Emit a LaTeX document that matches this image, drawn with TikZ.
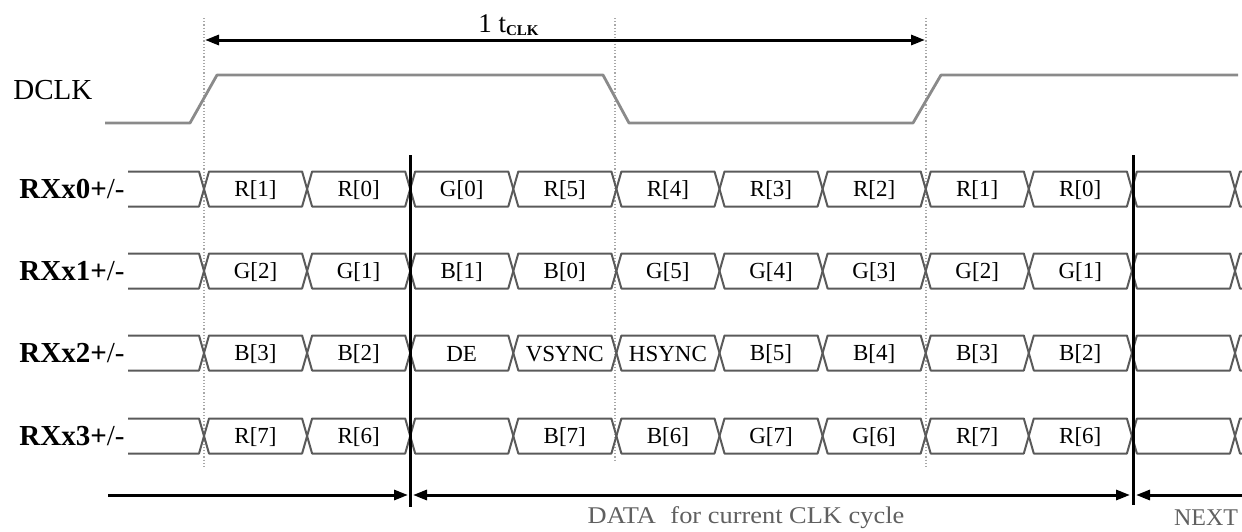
\documentclass[tikz,border=0pt]{standalone}
\usepackage{fontspec}
\setmainfont{Liberation Serif}
\usetikzlibrary{arrows.meta,positioning}
\definecolor{WaveGray}{HTML}{5A5A5A}
\definecolor{ClockGray}{HTML}{8A8A8A}
\definecolor{GuideGray}{HTML}{A8A8A8}
\definecolor{NoteGray}{HTML}{606060}

\begin{document}
\begin{tikzpicture}[
          x=0.5pt, y=-0.5pt,
          >={Triangle[length=7pt,width=5pt]},
          signal/.style={anchor=east, inner sep=0pt, font=\fontsize{14.5}{16}\selectfont},
          cell/.style={inner sep=0pt, font=\fontsize{11.5}{13}\selectfont},
          wave/.style={draw=WaveGray, line width=1pt, line join=round},
          clockline/.style={draw=ClockGray, line width=1.4pt, line join=round},
          guide/.style={draw=GuideGray, line width=0.6pt, densely dotted},
          cut/.style={draw=black, line width=1.5pt},
          span/.style={draw=black, line width=1.5pt},
          note/.style={inner sep=0pt, text=NoteGray, font=\fontsize{12}{14}\selectfont}
        ]
          \useasboundingbox (0,0) rectangle (1242,531);
          \foreach \gx/\gy in {204/468, 615/462, 926/468}
            \draw[guide] (\gx,18) -- (\gx,\gy);

          \node[signal, anchor=west] (dclk) at (13,90) {DCLK};
          \draw[clockline] (105,123) -- (190,123) -- (217,75) -- (603,75) -- (629,123)
            -- (913,123) -- (941,75) -- (1238,75);

          \foreach \r/\yc/\cells in {
              0/189/{R[1],R[0],G[0],R[5],R[4],R[3],R[2],R[1],R[0],{}},
              1/271/{G[2],G[1],B[1],B[0],G[5],G[4],G[3],G[2],G[1],{}},
              2/353/{B[3],B[2],DE,VSYNC,HSYNC,B[5],B[4],B[3],B[2],{}},
              3/436/{R[7],R[6],{},B[7],B[6],G[7],G[6],R[7],R[6],{}}} {
            \node[signal] (rx\r) at (125,\yc) {\textbf{RXx\r+}/-};
            \draw[wave] (128,\yc-17.5) -- (199,\yc-17.5) -- (204,\yc) -- (199,\yc+17.5) -- (128,\yc+17.5);
            \foreach \lab [count=\i from 0] in \cells {
              \pgfmathsetmacro\xa{204+103.1*\i}
              \pgfmathsetmacro\xb{\xa+103.1}
              \draw[wave] (\xa,\yc) -- (\xa+5,\yc-17.5) -- (\xb-5,\yc-17.5) -- (\xb,\yc)
                -- (\xb-5,\yc+17.5) -- (\xa+5,\yc+17.5) -- cycle;
              \node[cell] (c-\r-\i) at (\xa+51.5,\yc+1) {\lab};
            }
            \draw[wave] (1242,\yc-17.5) -- (1240,\yc-17.5) -- (1235,\yc) -- (1240,\yc+17.5) -- (1242,\yc+17.5);
          }

          \coordinate (cutAtop) at (410,155);
          \coordinate (cutAbot) at (410,507);
          \coordinate (cutBtop) at (1133,155);
          \coordinate (cutBbot) at (1133,505);
          \draw[cut] (cutAtop) -- (cutAbot);
          \draw[cut] (cutBtop) -- (cutBbot);

          \coordinate (clkL) at (205,40);
          \coordinate (clkR) at (925,40);
          \draw[span, <->] (clkL) -- (clkR);
          \node[inner sep=0pt, anchor=base] (tclk) at (509,32)
            {{\fontsize{13.5}{15}\selectfont 1 t}\textsubscript{\fontsize{7.5}{8}\selectfont\bfseries CLK}};

          \coordinate (prevL) at (108,495);
          \coordinate (prevR) at (408,495);
          \coordinate (curL) at (413,495);
          \coordinate (curR) at (1130,495);
          \coordinate (nextL) at (1136,495);
          \coordinate (nextR) at (1242,495);
          \draw[span, ->] (prevL) -- (prevR);
          \draw[span, <->] (curL) -- (curR);
          \draw[span, <-] (nextL) -- (nextR);

          \node[note] (datalbl) at (746,518) {\scalebox{1.1}[1]{DATA\hspace{0.3em} for current CLK cycle}};
          \node[note] (nextlbl) at (1206,518) {NEXT};
        \end{tikzpicture}
\end{document}
